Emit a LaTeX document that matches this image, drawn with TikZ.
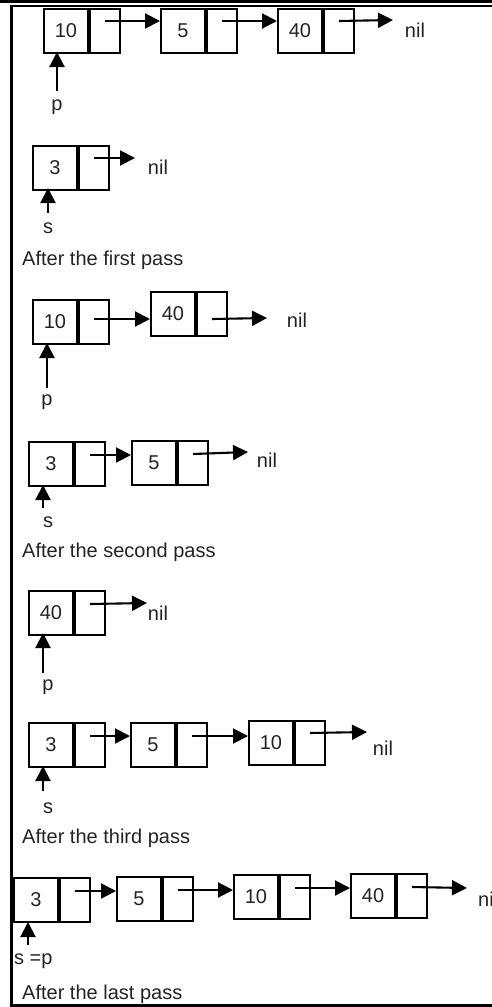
\documentclass[tikz,border=0pt]{standalone}
\usepackage{fontspec}
\setmainfont{Liberation Sans}
\usetikzlibrary{arrows.meta}
\definecolor{txt}{RGB}{35,35,35}
\begin{document}
\begin{tikzpicture}[x=1pt,y=-1pt,
  every node/.style={font=\fontsize{20}{24}\selectfont, text=txt},
  dat/.style={draw=black, line width=2pt, anchor=north west, inner sep=0pt,
              minimum width=44pt, minimum height=44pt},
  ptr/.style={draw=black, line width=2pt, anchor=north west, inner sep=0pt,
              minimum width=30pt, minimum height=44pt},
  link/.style={draw=black, line width=2.1pt, -{Triangle[length=15pt,width=15pt]}},
  lbl/.style={inner sep=0pt},
  frameline/.style={draw=black, line width=2.4pt}]
\useasboundingbox (0,0) rectangle (492,1007);
\clip (0,0) rectangle (492,1007);
% frame
\draw[frameline] (0,1.3) -- (492,1.3);
\draw[frameline] (10,6) -- (492,6);
\draw[frameline] (11.3,6) -- (11.3,1005.5);
\draw[frameline] (10.1,1005.5) -- (492,1005.5);

% ---------- row 1 ----------
\node[dat] (r1a) at (43,8) {10};
\node[ptr] (r1ap) at (r1a.north east) {};
\node[dat] (r1b) at (160,8) {5};
\node[ptr] (r1bp) at (r1b.north east) {};
\node[dat] (r1c) at (277,8) {40};
\node[ptr] (r1cp) at (r1c.north east) {};
\node[lbl] (r1nil) at (415,30) {nil};
\coordinate (r1e) at (393,20);
\draw[link] ([yshift=10pt]r1ap.center) -- ([yshift=10pt]r1ap.center -| r1b.west);
\draw[link] ([yshift=10pt]r1bp.center) -- ([yshift=10pt]r1bp.center -| r1c.west);
\draw[link] ([yshift=10pt]r1cp.center) -- (r1e);
\node[lbl] (r1p) at (57,107) {p};
\coordinate (r1pt) at (57,91);
\draw[link] (r1pt) -- ([yshift=2pt]r1pt |- r1a.south);

% ---------- row 2 ----------
\node[dat] (r2a) at (32,145) {3};
\node[ptr] (r2ap) at (r2a.north east) {};
\node[lbl] (r2nil) at (158,167) {nil};
\coordinate (r2e) at (135,158);
\draw[link] ([yshift=10pt]r2ap.center) -- (r2e);
\node[lbl] (r2s) at (48,228) {s};
\coordinate (r2st) at (48,213);
\draw[link] (r2st) -- ([yshift=3pt]r2st |- r2a.south);
\node[lbl, anchor=base west] (cap1) at (22,265) {After the first pass};

% ---------- row 3 ----------
\node[dat] (r3a) at (32,299) {10};
\node[ptr] (r3ap) at (r3a.north east) {};
\node[dat] (r3b) at (150,291) {40};
\node[ptr] (r3bp) at (r3b.north east) {};
\node[lbl] (r3nil) at (297,320) {nil};
\coordinate (r3e) at (267,318);
\draw[link] ([yshift=3pt]r3ap.center) -- ([yshift=3pt]r3ap.center -| r3b.west);
\draw[link] ([yshift=3pt]r3ap.center -| r3bp.center) -- (r3e);
\node[lbl] (r3p) at (47,402) {p};
\coordinate (r3pt) at (47,388);
\draw[link] (r3pt) -- ([yshift=2pt]r3pt |- r3a.south);

% ---------- row 4 ----------
\node[dat] (r4a) at (28,441) {3};
\node[ptr] (r4ap) at (r4a.north east) {};
\node[dat] (r4b) at (131,440) {5};
\node[ptr] (r4bp) at (r4b.north east) {};
\node[lbl] (r4nil) at (267,460) {nil};
\coordinate (r4e) at (248,452);
\draw[link] ([yshift=9pt]r4ap.center) -- ([yshift=9pt]r4ap.center -| r4b.west);
\draw[link] ([yshift=9pt]r4bp.center) -- (r4e);
\node[lbl] (r4s) at (48,522) {s};
\coordinate (r4st) at (43,508);
\draw[link] (r4st) -- ([yshift=2pt]r4st |- r4a.south);
\node[lbl, anchor=base west] (cap2) at (22,557) {After the second pass};

% ---------- row 5 ----------
\node[dat] (r5a) at (28,590) {40};
\node[ptr] (r5ap) at (r5a.north east) {};
\node[lbl] (r5nil) at (158,613) {nil};
\coordinate (r5e) at (147,603);
\draw[link] ([yshift=9pt]r5ap.center) -- (r5e);
\node[lbl] (r5p) at (48,687) {p};
\coordinate (r5pt) at (43,673);
\draw[link] (r5pt) -- ([yshift=3pt]r5pt |- r5a.south);

% ---------- row 6 ----------
\node[dat] (r6a) at (28,722) {3};
\node[ptr] (r6ap) at (r6a.north east) {};
\node[dat] (r6b) at (130,722) {5};
\node[ptr] (r6bp) at (r6b.north east) {};
\node[dat] (r6c) at (248,720) {10};
\node[ptr] (r6cp) at (r6c.north east) {};
\node[lbl] (r6nil) at (383,748) {nil};
\coordinate (r6e) at (367,732);
\draw[link] ([yshift=9pt]r6ap.center) -- ([yshift=9pt]r6ap.center -| r6b.west);
\draw[link] ([yshift=9pt]r6bp.center) -- ([yshift=9pt]r6bp.center -| r6c.west);
\draw[link] ([yshift=10pt]r6cp.center) -- (r6e);
\node[lbl] (r6s) at (48,808) {s};
\coordinate (r6st) at (43,791);
\draw[link] (r6st) -- ([yshift=2pt]r6st |- r6a.south);
\node[lbl, anchor=base west] (cap3) at (22,843) {After the third pass};

% ---------- row 7 ----------
\node[dat] (r7a) at (13,877) {3};
\node[ptr] (r7ap) at (r7a.north east) {};
\node[dat] (r7b) at (116,876) {5};
\node[ptr] (r7bp) at (r7b.north east) {};
\node[dat] (r7c) at (233,874) {10};
\node[ptr] (r7cp) at (r7c.north east) {};
\node[dat] (r7d) at (350,873) {40};
\node[ptr] (r7dp) at (r7d.north east) {};
\node[lbl, anchor=west] (r7nil) at (478,899) {nil};
\coordinate (r7e) at (467,888);
\draw[link] ([yshift=9pt]r7ap.center) -- ([yshift=9pt]r7ap.center -| r7b.west);
\draw[link] ([yshift=9pt]r7bp.center) -- ([yshift=9pt]r7bp.center -| r7c.west);
\draw[link] ([yshift=9pt]r7cp.center) -- ([yshift=9pt]r7cp.center -| r7d.west);
\draw[link] ([yshift=9pt]r7dp.center) -- (r7e);
\node[lbl, anchor=west] (r7s) at (14,961) {s =p};
\coordinate (r7st) at (28,945);
\draw[link] (r7st) -- ([yshift=1pt]r7st |- r7a.south);
\node[lbl, anchor=base west] (cap4) at (22,999) {After the last pass};
\end{tikzpicture}
\end{document}
